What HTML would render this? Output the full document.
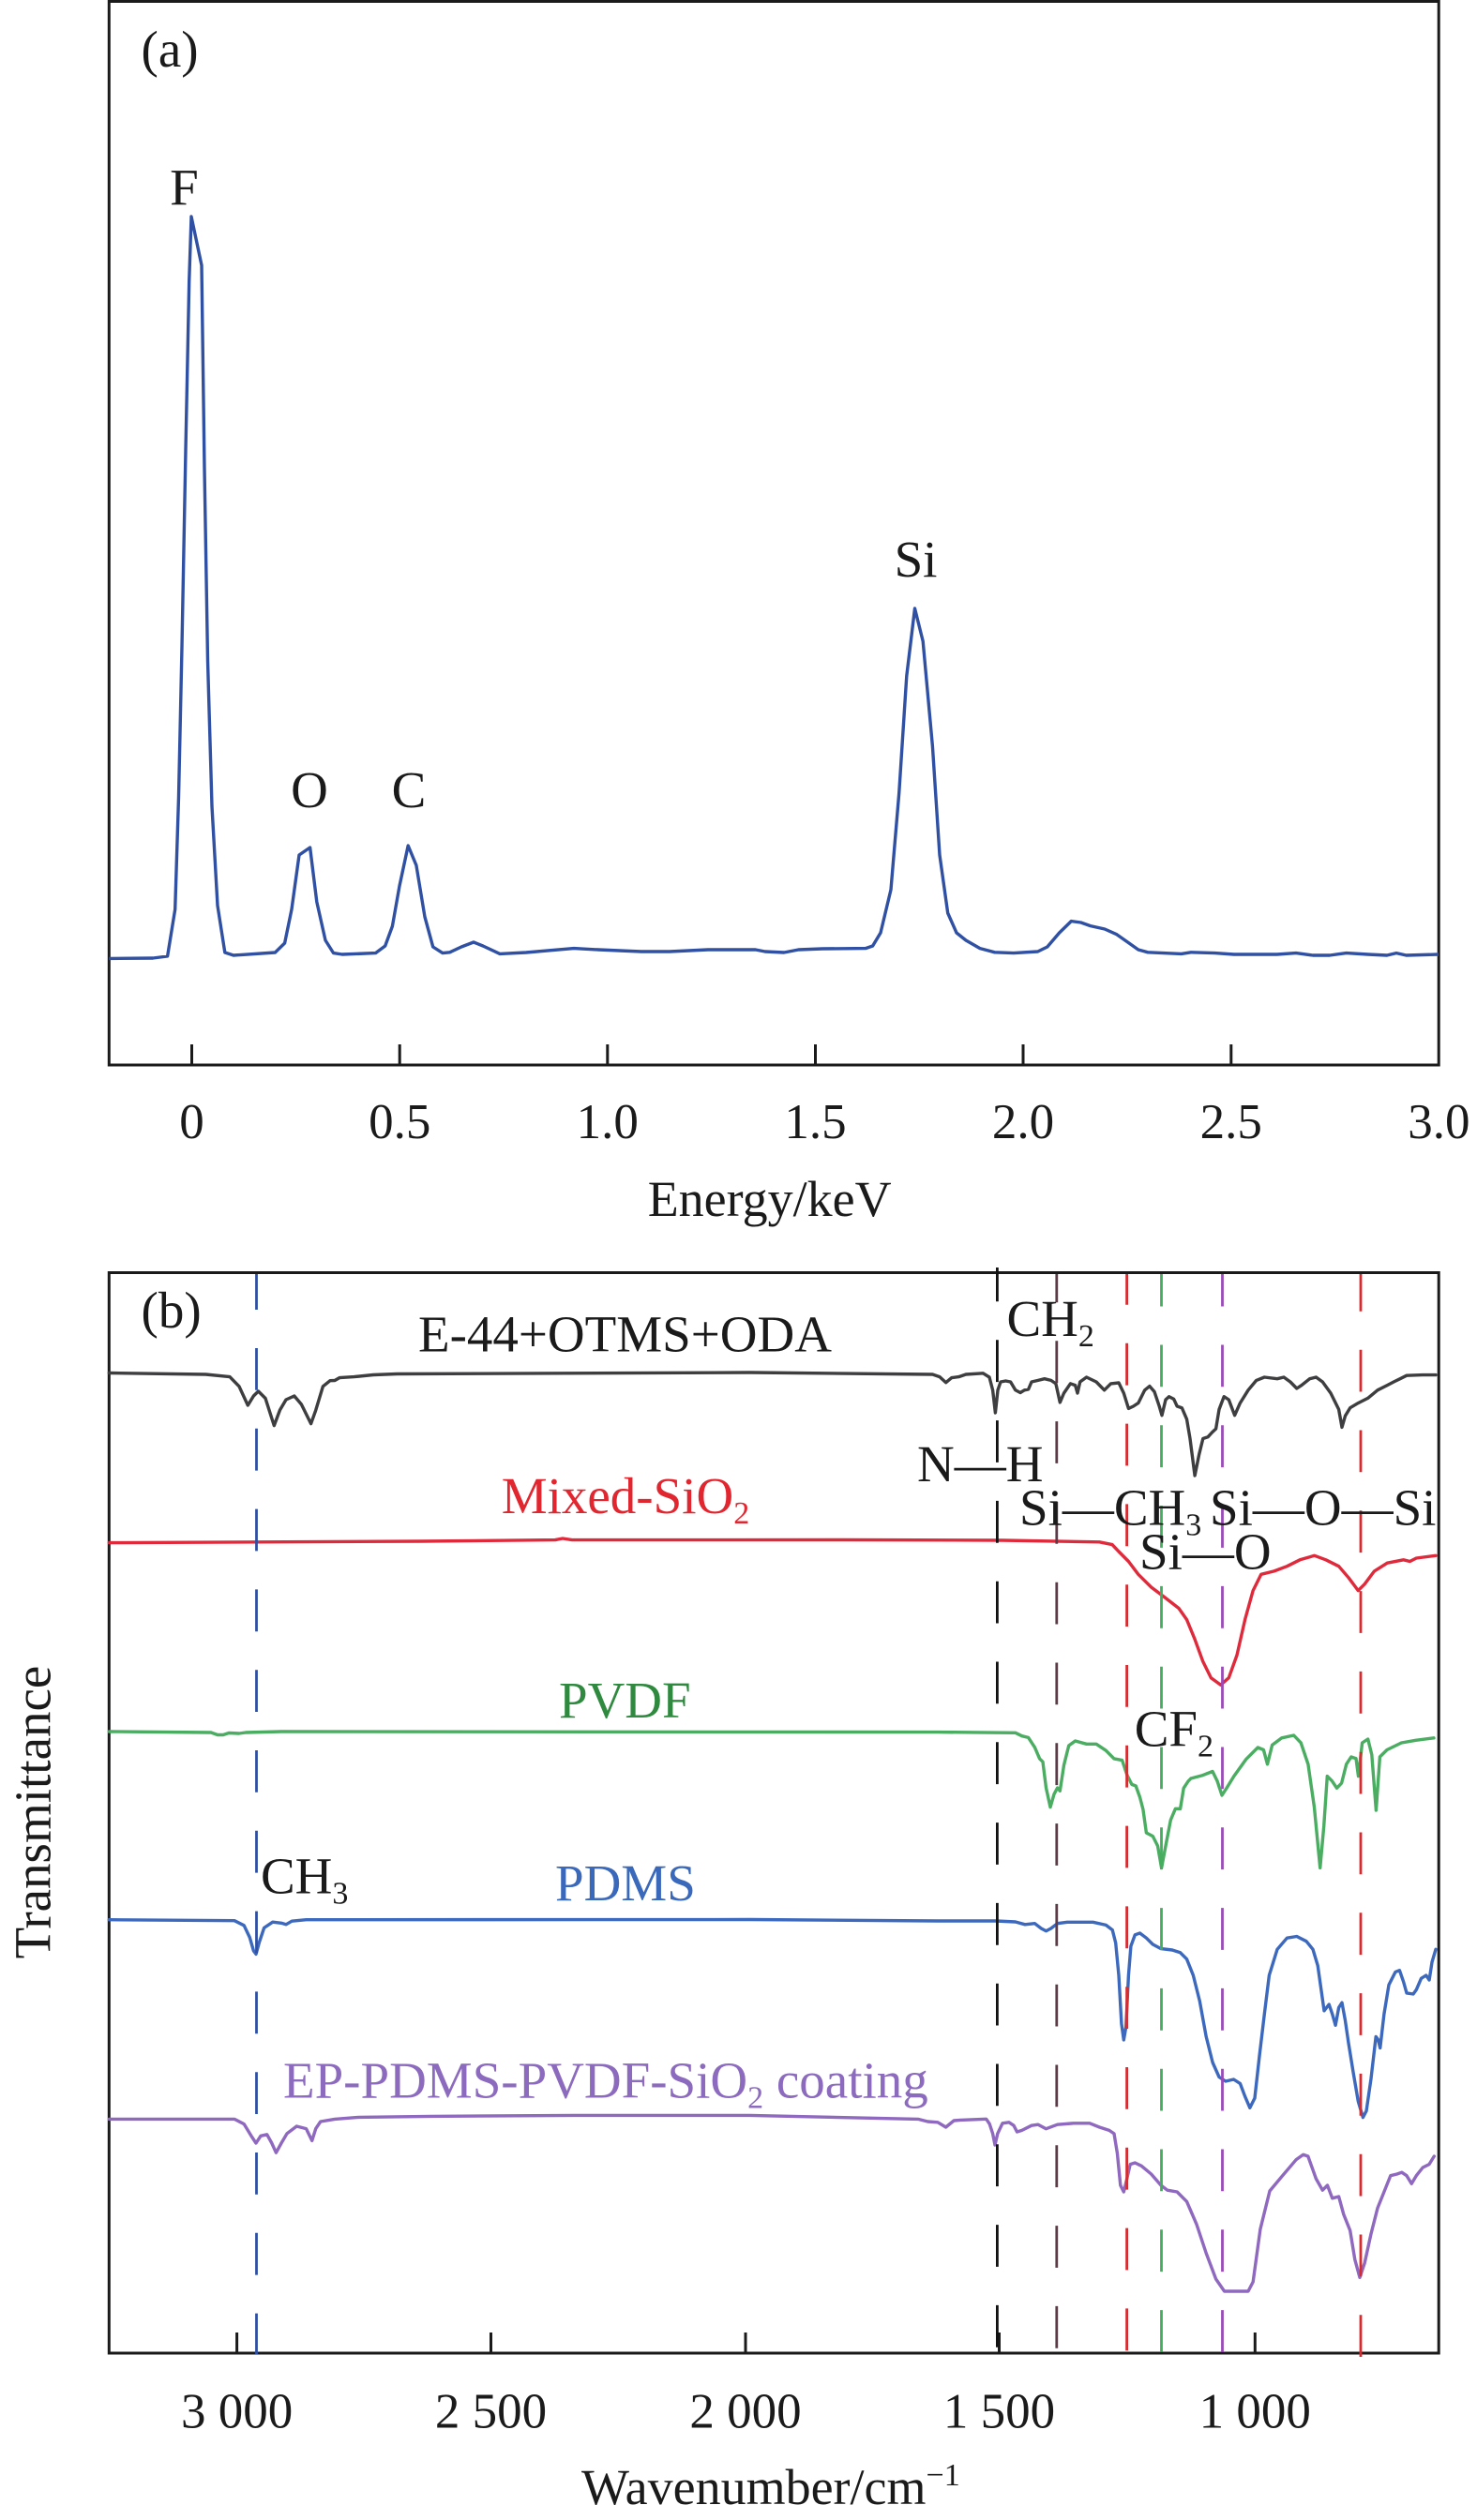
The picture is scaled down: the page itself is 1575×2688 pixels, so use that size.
<!DOCTYPE html>
<html>
<head>
<meta charset="utf-8">
<style>
  html,body{margin:0;padding:0;background:#fff;}
  svg{display:block;}
  text{font-family:"Liberation Serif","Times New Roman",serif;}
</style>
</head>
<body>
<svg width="1575" height="2688" viewBox="0 0 1575 2688" xmlns="http://www.w3.org/2000/svg">
<rect x="0" y="0" width="1575" height="2688" fill="#fff"/>

<!-- ================= Panel (a) ================= -->
<rect x="116.3" y="1.5" width="1417.9" height="1134.5" fill="none" stroke="#1a1a1a" stroke-width="3"/>
<g stroke="#1a1a1a" stroke-width="3">
  <line x1="204.5" y1="1114" x2="204.5" y2="1136"/>
  <line x1="426.2" y1="1114" x2="426.2" y2="1136"/>
  <line x1="647.8" y1="1114" x2="647.8" y2="1136"/>
  <line x1="869.5" y1="1114" x2="869.5" y2="1136"/>
  <line x1="1091" y1="1114" x2="1091" y2="1136"/>
  <line x1="1312.8" y1="1114" x2="1312.8" y2="1136"/>
</g>
<polyline fill="none" stroke="#2f50a3" stroke-width="3.4" stroke-linejoin="round" points="
116.3,1022.4 163,1022 178.6,1020 186.7,970 190.5,850 194,690 198,480 201.7,300 204,231 215,283 218,500 221.5,705 226,860 232,966 239.8,1016 249,1019 293.4,1016 303.6,1006 311,970 319,912 330.6,904 337.8,962 347,1003 355.6,1016.6 364.8,1018 400.5,1016.6 410.7,1009 418.4,988 426,945 435.2,902 443.9,923 453,978 461.7,1010 472,1016.6 479.6,1015.8 492,1010 505,1005 515,1009 533,1017.4 561,1016 612,1011.6 638,1013 683.7,1015 714,1015 755,1013 805.6,1013 815.8,1015 836,1016 851.5,1013 877,1012 923,1011.6 930.6,1009 939,995 950,949 958.7,846 966.8,721 975.5,649 984.2,684 994.4,796 1002,912 1010.7,974 1020,995 1030,1003 1045,1011.6 1060.7,1015.8 1081,1016.6 1106.6,1015 1116.8,1010 1129.6,995 1142.3,982.6 1152.6,984 1162.8,987.6 1178,991 1190.8,996.7 1203.6,1005.8 1213.8,1013 1224,1015.8 1259.7,1017.4 1270,1015.8 1295.4,1016.6 1315.8,1018 1361.7,1018 1382,1016.6 1400,1019 1417.9,1019 1435.7,1016.6 1458.7,1018 1479,1019 1489,1016.6 1499.5,1019 1534,1018"/>

<g fill="#1a1a1a" font-size="55">
  <text x="150.5" y="71">(a)</text>
  <text x="196.4" y="218.5" text-anchor="middle">F</text>
  <text x="330" y="861" text-anchor="middle">O</text>
  <text x="436" y="861" text-anchor="middle">C</text>
  <text x="976.5" y="615" text-anchor="middle">Si</text>
</g>
<g fill="#1a1a1a" font-size="53" text-anchor="middle">
  <text x="204.5" y="1214">0</text>
  <text x="426.2" y="1214">0.5</text>
  <text x="647.8" y="1214">1.0</text>
  <text x="869.5" y="1214">1.5</text>
  <text x="1091" y="1214">2.0</text>
  <text x="1312.8" y="1214">2.5</text>
  <text x="1534.4" y="1214">3.0</text>
</g>
<text x="690.7" y="1297" font-size="54" fill="#1a1a1a">Energy/keV</text>

<!-- ================= Panel (b) ================= -->
<rect x="116.3" y="1357.5" width="1417.9" height="1152.5" fill="none" stroke="#1a1a1a" stroke-width="3"/>
<g stroke="#1a1a1a" stroke-width="3">
  <line x1="252.6" y1="2488" x2="252.6" y2="2510"/>
  <line x1="523.5" y1="2488" x2="523.5" y2="2510"/>
  <line x1="795" y1="2488" x2="795" y2="2510"/>
  <line x1="1065.5" y1="2488" x2="1065.5" y2="2510"/>
  <line x1="1338.3" y1="2488" x2="1338.3" y2="2510"/>
</g>

<g fill="none" stroke-width="3.4" stroke-linejoin="round" stroke-linecap="round">
<!-- E-44+OTMS+ODA -->
<polyline stroke="#3e3e40" points="
116.3,1464.5 219.4,1466 245,1468.6 255,1478.8 264.3,1499 270.4,1489 275.5,1484 283,1491.5 292.3,1520.6 298.5,1504 305,1493 313.8,1489 321.4,1498 331.6,1518.6 336.7,1504.3 344.4,1478.8 352,1472.7 357,1472.5 362,1469.6 377.5,1468.6 398,1466.5 423.5,1465.5 800,1464 994.4,1466 1002,1468.6 1008.7,1474.7 1014.8,1469.6 1022.4,1468.6 1030,1466 1048.3,1464.8 1055,1469 1058.6,1482.8 1061.4,1507 1064,1482.8 1067,1474 1072.4,1473 1077.6,1474 1082.8,1482.8 1088,1485.5 1092.4,1482.8 1096.6,1482 1100,1474 1107,1472.4 1113.8,1470.7 1120.7,1472.4 1125.9,1475.9 1130.3,1495.9 1134.5,1486 1141.4,1475.9 1146.6,1477.6 1149,1486 1151.7,1474 1158.6,1469 1169,1474 1177.6,1482.8 1184.5,1475.9 1193,1475 1198.3,1486 1203.4,1502.4 1208.6,1500 1213.8,1496.6 1220.7,1482.8 1225.9,1478.6 1231,1484.5 1236.2,1500 1239,1509.7 1243,1493 1246.6,1489.7 1251.7,1492.4 1255.2,1500 1260.3,1501.7 1265.5,1513.8 1269,1534.5 1274.1,1574 1278.6,1551.7 1282.8,1534.5 1288,1532.8 1292.4,1528 1296.6,1524 1300,1503.4 1305.2,1489.7 1310.3,1493 1316.6,1509.7 1322.4,1496.6 1331,1482.8 1339.7,1472.4 1348.3,1469 1362,1470.7 1369,1469 1375.9,1474 1382.8,1481 1388,1477.6 1396.6,1470.7 1403.4,1469 1410.3,1474 1419,1486 1427.6,1503.4 1431,1522.4 1434.5,1510.3 1439.7,1501.7 1448.3,1496.6 1458.6,1491.4 1469,1482.8 1479.3,1477.6 1486.2,1474 1493,1470.7 1500,1467.2 1517,1466.6 1531,1466.6"/>
<!-- Mixed-SiO2 -->
<polyline stroke="#df2a3c" points="
116.3,1645.6 450,1644 592,1642.6 600,1641 610,1642.6 900,1642.5 1069,1643 1172.4,1644.8 1186,1647.6 1193,1655 1203.4,1665.5 1213.8,1679.3 1227.6,1693 1241.4,1703.4 1257,1715.5 1265.5,1727.6 1274,1748.3 1282.8,1772.4 1291.4,1789.7 1301.7,1797.2 1310.3,1789.7 1319,1765.5 1327.6,1727.6 1336.2,1696.6 1344.8,1679.3 1358.6,1675.9 1372.4,1670.7 1386.2,1663.8 1401.7,1659.3 1413.8,1663.8 1427.6,1670.7 1438,1682.8 1448.3,1696.6 1455.2,1689.7 1465.5,1675.9 1479.3,1667.2 1496.6,1663.8 1503.4,1665.5 1510.3,1662 1531,1659.3"/>
<!-- PVDF -->
<polyline stroke="#4aad61" points="
116.3,1847 225,1848 232,1850.5 238,1850.5 244,1848.5 255,1849 262,1848 300,1847 1000,1847.6 1082.8,1848.3 1089.7,1851.7 1096.6,1853.4 1103.4,1863.8 1108.6,1875.9 1112,1879.3 1115.5,1907 1120,1927.6 1124,1913.8 1127.6,1907 1130.3,1910.3 1134.5,1882.8 1139.7,1862 1146.6,1857 1158.6,1860.3 1169,1860.3 1179.3,1867.2 1188,1875.9 1196.6,1877.6 1201.7,1893 1206.9,1903.4 1211.2,1905 1215.5,1917 1218.9,1930 1222.4,1955 1229.3,1958.6 1234.5,1969 1238.6,1992.4 1243,1969 1248.3,1941.4 1253.4,1929.3 1258.6,1929.3 1262.2,1907.3 1267,1900 1269.9,1897 1282.6,1893.6 1293,1889.5 1298,1899.7 1303,1915 1308,1907.3 1315.8,1894.6 1328.6,1876.7 1341.3,1864 1347.4,1866.5 1351.5,1881.8 1356.6,1861.4 1366.8,1853.8 1379.6,1851 1387.2,1858.9 1394.9,1881.8 1401.5,1927.8 1407.7,1992.4 1411.7,1948 1415.3,1894.6 1420.4,1899.7 1425.5,1907.3 1430.6,1902 1435.7,1881.8 1440.8,1874 1446,1875.7 1448.5,1894.6 1452.6,1859 1458.7,1855 1462.8,1871.6 1467.4,1931 1471.4,1874 1479,1866.5 1494.4,1859 1509.7,1856.3 1529,1853.8"/>
<!-- PDMS -->
<polyline stroke="#3c69bd" points="
116.3,2047.7 250,2048.7 260.2,2053.8 266.3,2066.6 270.4,2080.9 273,2084.4 276.5,2071.7 281.6,2056.4 290.8,2050.2 300,2051.3 305,2052.8 311.2,2049.2 326.5,2047.7 800,2047.5 1000,2049 1062,2049 1082.8,2050 1093,2052.8 1103.4,2051.7 1110.3,2057 1115.5,2059.7 1120.7,2057 1127.6,2051.7 1138,2050.3 1165.5,2050.3 1179.3,2053.4 1186.2,2058.6 1189.7,2072.4 1193,2107 1195.9,2158.6 1198.3,2175.9 1200.7,2162 1203.4,2107 1205.9,2075.9 1210.3,2063.8 1215.5,2062 1222.4,2067.2 1229.3,2074 1238,2078.6 1250,2080 1258.6,2082.8 1265.5,2089.7 1272.4,2107 1279.3,2134.5 1286.2,2172.4 1293.1,2200 1300,2215.5 1306.9,2220 1315.5,2218 1322.4,2222.4 1327.6,2236.2 1332.8,2248.3 1338,2238 1343,2193 1348.3,2148.3 1353.4,2107 1362,2079.3 1372.4,2067.2 1382.8,2065.5 1393,2070.7 1400,2079.3 1405.2,2096.6 1408.6,2120.7 1412,2144.8 1417.2,2138 1420.7,2148.3 1424.1,2160.3 1427.6,2141.4 1431,2136.2 1434.5,2155.2 1438,2179.3 1443,2210.3 1448.3,2241.4 1453.4,2258.6 1457,2251.7 1462,2217.2 1467.2,2172.4 1469.7,2175.9 1471.7,2184.5 1475.9,2148.3 1481,2117.2 1488,2103.4 1492.4,2101.7 1496.6,2113.8 1500,2125.9 1507,2127 1510.3,2122.4 1515.5,2110.3 1520.7,2107 1524.1,2112 1527,2093 1531,2079.3"/>
<!-- EP-PDMS-PVDF-SiO2 coating -->
<polyline stroke="#8f68bf" points="
116.3,2260.4 250,2260.4 260.2,2265.6 267.9,2278.3 273,2286 278,2278.3 284.7,2276.8 289.8,2286 294.4,2296.2 300,2286 306,2275.8 316.3,2268 326.5,2270.6 332.7,2283.4 336.7,2270.6 341.8,2263 357,2260.4 382.7,2258.4 459,2257.4 612,2256.4 800,2256.4 979,2260.4 989.3,2263 1000,2263.8 1008.6,2269 1017.2,2262 1024,2261.4 1051.7,2260.3 1055.2,2265.5 1058.6,2275.9 1061,2288 1063.8,2275.9 1069,2264.8 1075.9,2263.8 1081,2267.2 1084.5,2274 1089.7,2272.4 1100,2267.2 1107,2266.2 1115.5,2270.7 1127.6,2266.2 1144.8,2264.8 1162,2264.8 1172.4,2269 1182.8,2272.4 1188,2275.9 1191.4,2296.6 1194.8,2331 1198.3,2338 1201.7,2324 1205.2,2308.6 1210.3,2307 1217.2,2310.3 1227.6,2319 1238,2331 1244.8,2336.2 1255.2,2338 1265.5,2348.3 1275.9,2372.4 1286.2,2403.4 1296.6,2431 1305.6,2444 1331,2444 1336.2,2434 1343.9,2377.8 1354,2337 1366.8,2321.7 1382,2303.8 1389.7,2298.3 1394.8,2300 1403.4,2324 1410.3,2336.2 1415.5,2331 1420.7,2344.8 1427.6,2343 1432.8,2362 1439.7,2379.3 1444.8,2410.3 1450,2429.3 1455.2,2413.8 1462,2382.8 1469,2355.2 1475.9,2338 1482.8,2320.7 1489.7,2319 1494.8,2317.2 1500,2320.7 1505.2,2329.3 1510.3,2320.7 1517.2,2312 1524,2308.6 1529.3,2300"/>
</g>

<!-- dashed guide lines -->
<g stroke-width="2.8" stroke-dasharray="44.8 41">
  <line x1="273.5" y1="1359" x2="273.5" y2="2511" stroke="#2e4fa3" stroke-dashoffset="6.8"/>
  <line x1="1063.4" y1="1352" x2="1063.4" y2="2511" stroke="#111111" stroke-dashoffset="8.5"/>
  <line x1="1126.8" y1="1359" x2="1126.8" y2="2511" stroke="#5c3a48" stroke-dashoffset="14.5"/>
  <line x1="1201.6" y1="1359" x2="1201.6" y2="2511" stroke="#d62c30" stroke-dashoffset="12"/>
  <line x1="1238.5" y1="1359" x2="1238.5" y2="2511" stroke="#44ad5e" stroke-dashoffset="10.3"/>
  <line x1="1303.5" y1="1359" x2="1303.5" y2="2511" stroke="#9b4ab8" stroke-dashoffset="10.3"/>
  <line x1="1451" y1="1359" x2="1451" y2="2514" stroke="#d62c30" stroke-dashoffset="5.1"/>
</g>

<!-- labels panel b -->
<g font-size="55" fill="#1a1a1a">
  <text x="150.5" y="1416">(b)</text>
  <text x="446" y="1441.5">E-44+OTMS+ODA</text>
  <text x="1073.5" y="1425">CH<tspan font-size="34" dy="11">2</tspan></text>
  <text x="978" y="1580">N—H</text>
  <text x="1087" y="1626.7">Si—CH<tspan font-size="34" dy="11">3</tspan></text>
  <text x="1290" y="1626.7">Si—O—Si</text>
  <text x="1215" y="1673.7">Si—O</text>
  <text x="1209.7" y="1862.4">CF<tspan font-size="34" dy="11">2</tspan></text>
  <text x="278" y="2019.6">CH<tspan font-size="34" dy="11">3</tspan></text>
  <text x="534.7" y="1614" fill="#e2262f">Mixed-SiO<tspan font-size="34" dy="11">2</tspan></text>
  <text x="596" y="1831.8" fill="#2f8a3f">PVDF</text>
  <text x="592" y="2027" fill="#3a68bb">PDMS</text>
  <text x="302" y="2237.5" fill="#8c6bbf">EP-PDMS-PVDF-SiO<tspan font-size="34" dy="11">2</tspan><tspan dy="-11"> coating</tspan></text>
</g>
<g fill="#1a1a1a" font-size="53" text-anchor="middle">
  <text x="252.6" y="2589.5">3 000</text>
  <text x="523.5" y="2589.5">2 500</text>
  <text x="795" y="2589.5">2 000</text>
  <text x="1065.5" y="2589.5">1 500</text>
  <text x="1338.3" y="2589.5">1 000</text>
</g>
<text x="620" y="2671" font-size="54" fill="#1a1a1a">Wavenumber/cm<tspan font-size="34" dy="-20">−1</tspan></text>
<text transform="translate(53.5,1933) rotate(-90)" text-anchor="middle" font-size="55" fill="#1a1a1a">Transmittance</text>
</svg>
</body>
</html>
